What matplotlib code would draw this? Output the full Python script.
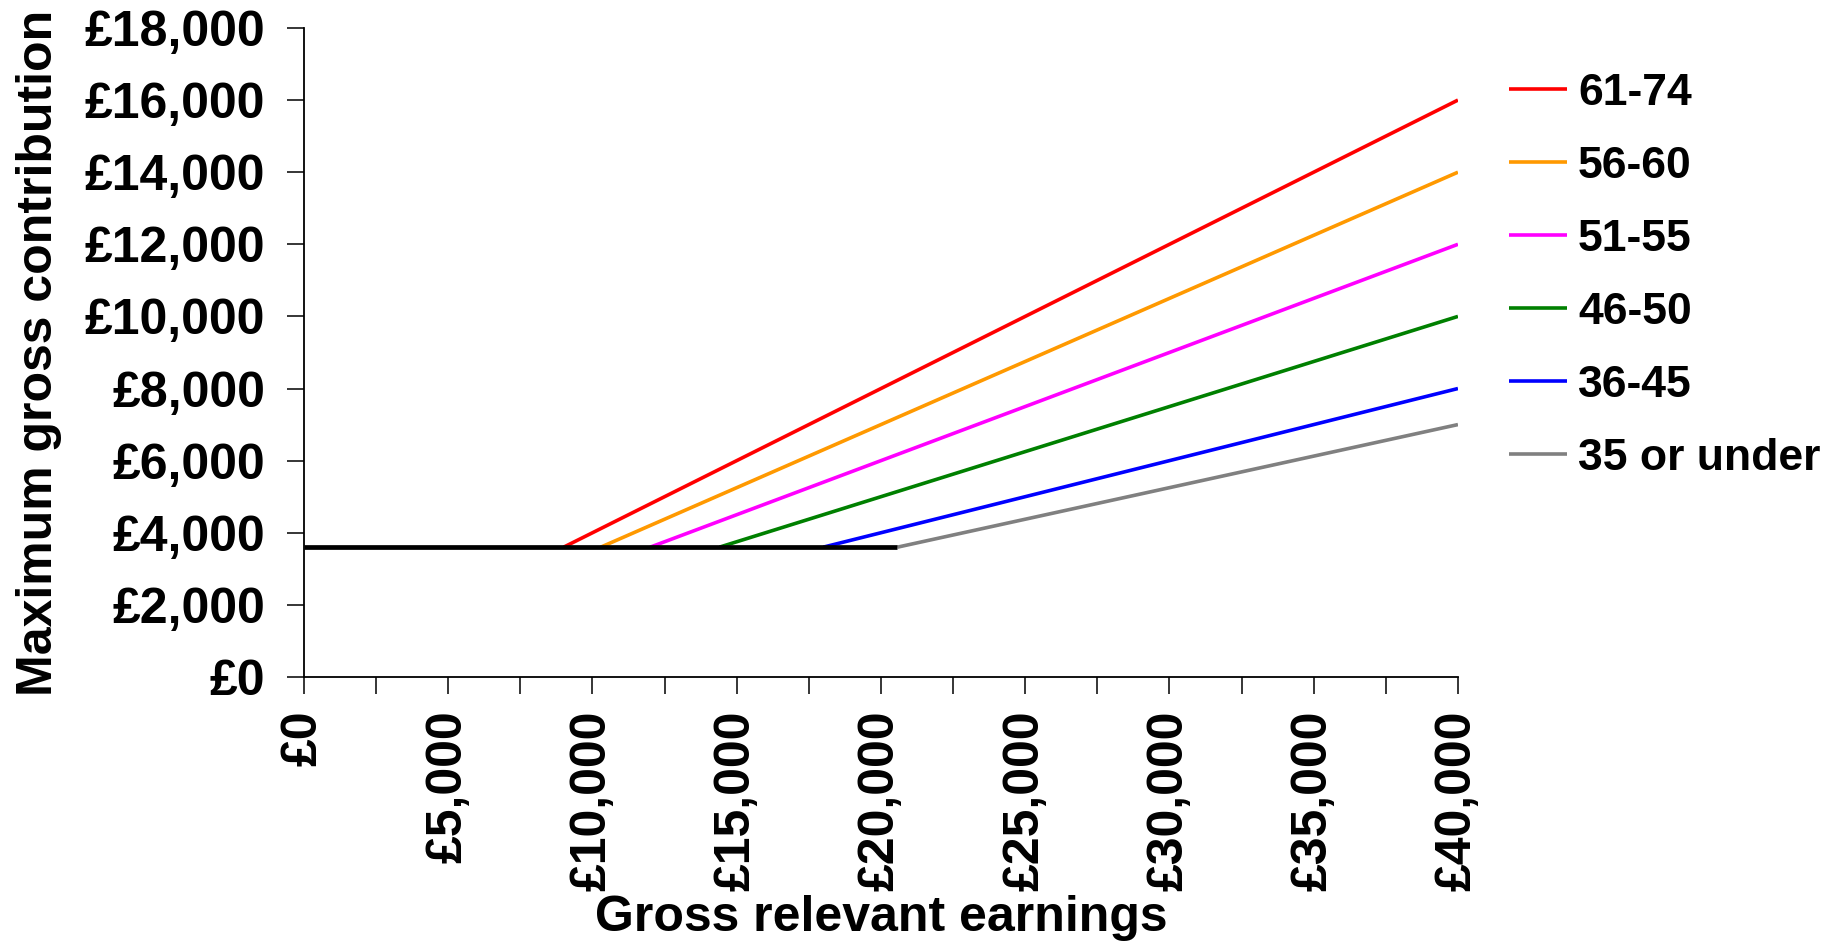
import matplotlib
matplotlib.use("Agg")
import matplotlib.pyplot as plt
from matplotlib.ticker import MultipleLocator, FuncFormatter

# Age bands and the earnings point where each line leaves the £3,600 floor
bands = ["61-74", "56-60", "51-55", "46-50", "36-45", "35 or under"]
colors = ["#FF0000", "#FF9900", "#FF00FF", "#008000", "#0000FF", "#808080"]
start_earnings = [9000, 10286, 12000, 14400, 18000, 20571]
end_earnings = [40000, 40000, 40000, 40000, 40000, 40000]
end_values = [16000, 14000, 12000, 10000, 8000, 7000]

# Basic amount floor (drawn in black)
floor_earnings = [0, 20571]
floor_values = [3600, 3600]

plt.rcParams['font.family'] = ['Liberation Sans', 'DejaVu Sans']
plt.rcParams['font.weight'] = 'bold'

fig = plt.figure(figsize=(18.39, 9.48), dpi=100)
ax = fig.add_axes([0.1653, 0.2859, 0.6275, 0.6846])

for band, col, x0, x1, y1 in zip(bands, colors, start_earnings, end_earnings, end_values):
    ax.plot([x0, x1], [floor_values[0], y1], color=col, lw=2.6, label=band,
            solid_capstyle='butt')

ax.plot(floor_earnings, floor_values, color='black', lw=3.4, zorder=5,
        solid_capstyle='butt')

ax.set_xlim(0, 40000)
ax.set_ylim(0, 18000)

ax.xaxis.set_major_locator(MultipleLocator(2500))
ax.xaxis.set_major_formatter(FuncFormatter(
    lambda v, p: f"£{int(v):,}" if int(v) % 5000 == 0 else ""))
ax.yaxis.set_major_locator(MultipleLocator(2000))
ax.yaxis.set_major_formatter(FuncFormatter(lambda v, p: f"£{int(v):,}"))

for s in ['top', 'right']:
    ax.spines[s].set_visible(False)
for s in ['left', 'bottom']:
    ax.spines[s].set_linewidth(1.3)

ax.tick_params(axis='x', direction='out', length=12, width=1.1, pad=12,
               labelsize=36, labelrotation=90)
ax.tick_params(axis='y', direction='out', length=12, width=1.1, pad=16,
               labelsize=36)
for lbl in ax.get_xticklabels() + ax.get_yticklabels():
    lbl.set_fontweight('bold')

ax.set_xlabel("Gross relevant earnings", fontsize=36, fontweight='bold', labelpad=3)
ax.set_ylabel("Maximum gross contribution", fontsize=36, fontweight='bold', labelpad=16)

leg = ax.legend(loc='upper left', bbox_to_anchor=(1.029, 0.958), frameon=False,
                prop={'size': 32, 'weight': 'bold'}, handlelength=1.3,
                handletextpad=0.25, labelspacing=0.72, borderaxespad=0)

fig.savefig("out.png", dpi=100)
